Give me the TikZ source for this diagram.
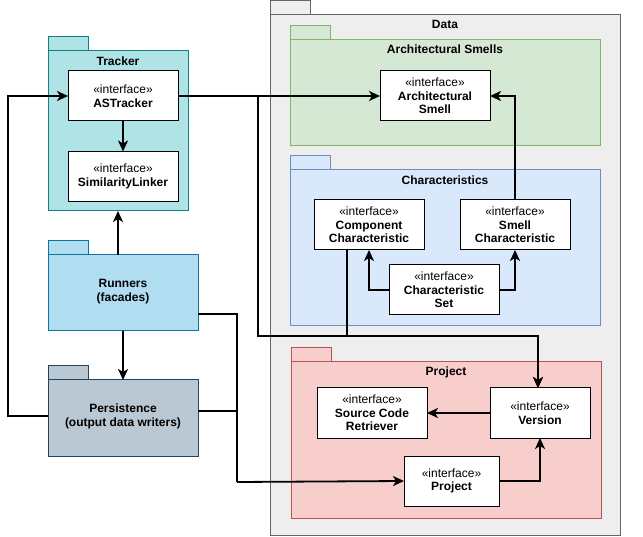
\documentclass[tikz,border=0pt]{standalone}
\usepackage{fontspec}
\setmainfont{Liberation Sans}
\usetikzlibrary{arrows.meta}
\definecolor{datafill}{HTML}{EEEEEE}
\definecolor{datadraw}{HTML}{666666}
\definecolor{trfill}{HTML}{B0E3E6}
\definecolor{trdraw}{HTML}{0E8088}
\definecolor{rufill}{HTML}{B1DDF0}
\definecolor{rudraw}{HTML}{10739E}
\definecolor{pefill}{HTML}{BAC8D3}
\definecolor{pedraw}{HTML}{23445D}
\definecolor{gnfill}{HTML}{D5E8D4}
\definecolor{gndraw}{HTML}{82B366}
\definecolor{blfill}{HTML}{DAE8FC}
\definecolor{bldraw}{HTML}{6C8EBF}
\definecolor{rdfill}{HTML}{F8CECC}
\definecolor{rddraw}{HTML}{B85450}
\begin{document}
\begin{tikzpicture}[x=1pt,y=-1pt,
  pkg/.style={draw, line width=1pt, inner sep=0pt, outer sep=0pt, anchor=north west},
  ibox/.style={draw=black, fill=white, line width=1pt, minimum width=110pt, minimum height=50pt,
    align=center, inner sep=0pt, outer sep=0pt, font=\fontsize{12}{13.5}\selectfont},
  conn/.style={line width=1.8pt, -{Stealth[length=11pt,width=10pt,inset=3pt]}},
  plainline/.style={line width=1.8pt},
  ttl/.style={font=\bfseries\fontsize{12}{14}\selectfont, inner sep=0pt},
  pkgtxt/.style={font=\bfseries\fontsize{12}{14.5}\selectfont, align=center, inner sep=0pt}]
\useasboundingbox (0,0) rectangle (643,537);

% Data package
\draw[fill=datafill, draw=datadraw, line width=1pt] (270,1) rectangle (310,15);
\node[pkg, fill=datafill, draw=datadraw, minimum width=350pt, minimum height=520pt] (data) at (270,15) {};
\node[ttl] (datat) at (445,24) {Data};

% Architectural Smells package
\draw[fill=gnfill, draw=gndraw, line width=1pt] (290,26) rectangle (330,40);
\node[pkg, fill=gnfill, draw=gndraw, minimum width=310pt, minimum height=106pt] (asp) at (290,40) {};
\node[ttl] (aspt) at (445,49) {Architectural Smells};

% Characteristics package
\draw[fill=blfill, draw=bldraw, line width=1pt] (290,156) rectangle (330,170);
\node[pkg, fill=blfill, draw=bldraw, minimum width=310pt, minimum height=156pt] (chp) at (290,170) {};
\node[ttl] (chpt) at (445,180) {Characteristics};

% Project package
\draw[fill=rdfill, draw=rddraw, line width=1pt] (291,348) rectangle (331,362);
\node[pkg, fill=rdfill, draw=rddraw, minimum width=310pt, minimum height=156pt] (prp) at (291,362) {};
\node[ttl] (prpt) at (446,372) {Project};

% Tracker package
\draw[fill=trfill, draw=trdraw, line width=1pt] (48,37) rectangle (88,51);
\node[pkg, fill=trfill, draw=trdraw, minimum width=140pt, minimum height=160pt] (tracker) at (48,51) {};
\node[ttl] (trackert) at (118,61) {Tracker};

% Runners package
\draw[fill=rufill, draw=rudraw, line width=1pt] (48,241) rectangle (88,255);
\node[pkg, fill=rufill, draw=rudraw, minimum width=150pt, minimum height=76pt] (runners) at (48,255) {};
\node[pkgtxt] (runnerst) at (123,291.5) {Runners\\(facades)};

% Persistence package
\draw[fill=pefill, draw=pedraw, line width=1pt] (48,366) rectangle (88,380);
\node[pkg, fill=pefill, draw=pedraw, minimum width=150pt, minimum height=76pt] (persist) at (48,380) {};
\node[pkgtxt] (persistt) at (123,416.5) {Persistence\\(output data writers)};

% connectors
\draw[conn] (runners.north -| tracker.south) -- (tracker.south);
\draw[conn] (runners.south) -- (persist.north);
\draw[plainline] ([yshift=-21pt]runners.east) -- (237,314) -- (237,482);
\draw[plainline] ([yshift=7pt]persist.east) -- (237,411);

% interface boxes
\node[ibox] (astr) at (123,96) {«interface»\\\textbf{ASTracker}};
\node[ibox] (siml) at (123,176.5) {«interface»\\\textbf{SimilarityLinker}};
\node[ibox] (asmell) at (435,96) {«interface»\\\textbf{Architectural}\\\textbf{Smell}};
\node[ibox] (compch) at (369,225) {«interface»\\\textbf{Component}\\\textbf{Characteristic}};
\node[ibox] (smellch) at (515,225) {«interface»\\\textbf{Smell}\\\textbf{Characteristic}};
\node[ibox] (charset) at (444,290) {«interface»\\\textbf{Characteristic}\\\textbf{Set}};
\node[ibox] (scr) at (372,413) {«interface»\\\textbf{Source Code}\\\textbf{Retriever}};
\node[ibox, minimum width=100pt] (version) at (540,413) {«interface»\\\textbf{Version}};
\node[ibox, minimum width=95pt] (proji) at (451.5,481) {«interface»\\\textbf{Project}};
\coordinate (vtop) at ([xshift=-2pt]version.north);

\draw[conn] (astr.south) -- (siml.north);
\draw[conn] ([yshift=2pt]persist.west) -- (8,416) |- (astr.west);
\draw[conn] (astr.east) -- (asmell.west);
\draw[conn] (astr.east) -| (258,336) -| (vtop);
\draw[conn] ([xshift=-22pt]compch.south) -- (347,336) -| (vtop);
\draw[conn] (smellch.north) |- (asmell.east);
\draw[conn] (charset.west) -| (compch.south);
\draw[conn] (charset.east) -| (smellch.south);
\draw[conn] (version.west) -- (scr.east);
\draw[conn] (proji.east) -| (version.south);
\draw[conn] (237,482) -- (proji.west);
\end{tikzpicture}
\end{document}
